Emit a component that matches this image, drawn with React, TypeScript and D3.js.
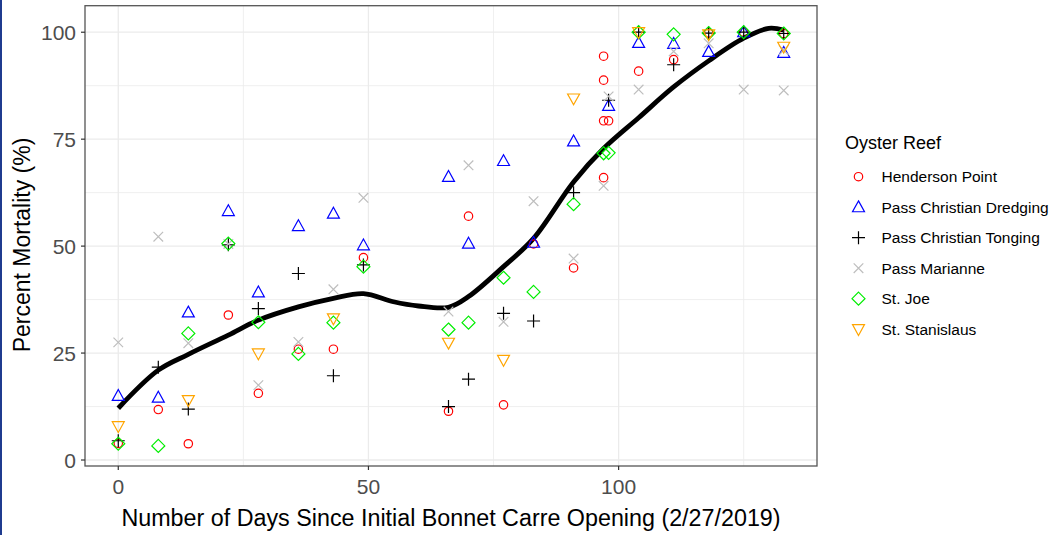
import React from "react";
import * as d3 from "d3";

const seriesNames = [
  "Henderson Point",
  "Pass Christian Dredging",
  "Pass Christian Tonging",
  "Pass Marianne",
  "St. Joe",
  "St. Stanislaus",
];

const hendersonDays = [0, 8, 14, 22, 28, 36, 43, 49, 66, 70, 77, 83, 91, 97, 97, 97, 97, 98, 104, 111, 118, 125, 133];
const hendersonVals = [3.9, 11.8, 3.8, 33.9, 15.6, 25.9, 25.9, 47.3, 11.4, 57.0, 12.9, 50.5, 44.9, 94.4, 88.8, 79.3, 66.0, 79.3, 90.9, 93.6, 99.8, 100, 99.7];

const dredgingDays = [0, 8, 14, 22, 28, 36, 43, 49, 66, 70, 77, 83, 91, 98, 104, 111, 118, 125, 133];
const dredgingVals = [15.0, 14.6, 34.5, 58.2, 39.2, 54.7, 57.6, 50.2, 66.2, 50.6, 69.9, 50.8, 74.5, 82.8, 97.5, 97.3, 95.4, 100, 95.2];

const tongingDays = [0, 8, 14, 22, 28, 36, 43, 49, 66, 70, 77, 83, 91, 98, 104, 111, 118, 125, 133];
const tongingVals = [4.5, 21.7, 11.9, 50.3, 35.4, 43.6, 19.7, 45.6, 12.5, 18.9, 34.3, 32.5, 62.5, 84.1, 100, 92.4, 99.8, 100, 99.7];

const marianneDays = [0, 8, 14, 22, 28, 36, 43, 49, 66, 70, 77, 83, 91, 97, 98, 104, 111, 118, 125, 133, 133];
const marianneVals = [27.5, 52.2, 27.3, 50.5, 17.5, 27.6, 39.9, 61.3, 34.7, 68.9, 32.3, 60.5, 47.1, 64.1, 85.0, 86.6, 95.5, 97.4, 86.6, 86.4, 95.8];

const joeDays = [0, 8, 14, 22, 28, 36, 43, 49, 66, 70, 77, 83, 91, 97, 98, 104, 111, 118, 125, 133];
const joeVals = [3.8, 3.3, 29.6, 50.6, 32.2, 24.8, 32.1, 45.2, 30.5, 32.1, 42.6, 39.3, 59.8, 71.7, 71.8, 100, 99.5, 99.8, 100, 99.7];

const stanislausDays = [0, 14, 28, 43, 66, 77, 91, 104, 118, 133];
const stanislausVals = [7.9, 14.0, 24.9, 33.1, 27.4, 23.4, 84.5, 100, 99.5, 96.6];

const smoothDays = [0, 8, 14, 22, 28, 36, 43, 49, 55, 60, 66, 70, 77, 83, 91, 97, 104, 111, 118, 125, 130, 133];
const smoothVals = [12.1, 21.0, 24.7, 29.2, 32.7, 35.8, 37.8, 38.9, 37.0, 36.0, 35.7, 38.2, 45.2, 51.8, 65.0, 72.8, 80.0, 87.2, 93.3, 98.6, 100.9, 100.5];

const xTicks = [0, 50, 100];
const xMinor = [25, 75, 125];
const yTicks = [0, 25, 50, 75, 100];
const yMinor = [12.5, 37.5, 62.5, 87.5];

const colors = ["#ff0000", "#0000ff", "#000000", "#bebebe", "#00ee00", "#ffa500"];
const shapes = ["circle", "triangle", "plus", "cross", "diamond", "invtriangle"];

const W = 1058;
const H = 535;
const panel = { left: 85, right: 817, top: 5.7, bottom: 466 };

const xScale = d3.scaleLinear().domain([-6.65, 139.65]).range([panel.left, panel.right]);
const yScale = d3.scaleLinear().domain([-1.4, 106.2]).range([panel.bottom, panel.top]);

function Marker({ shape, color, x, y }: { shape: string; color: string; x: number; y: number }) {
  const sw = 1.2;
  if (shape === "circle") {
    return <circle cx={x} cy={y} r={4.2} fill="none" stroke={color} strokeWidth={sw} />;
  }
  if (shape === "triangle") {
    const s = 6.3;
    return (
      <path
        d={`M${x},${y - s}L${x + s * 0.95},${y + s * 0.72}L${x - s * 0.95},${y + s * 0.72}Z`}
        fill="none"
        stroke={color}
        strokeWidth={sw}
      />
    );
  }
  if (shape === "invtriangle") {
    const s = 6.3;
    return (
      <path
        d={`M${x},${y + s}L${x + s * 0.95},${y - s * 0.72}L${x - s * 0.95},${y - s * 0.72}Z`}
        fill="none"
        stroke={color}
        strokeWidth={sw}
      />
    );
  }
  if (shape === "plus") {
    const s = 6.5;
    return (
      <path d={`M${x - s},${y}L${x + s},${y}M${x},${y - s}L${x},${y + s}`} stroke={color} strokeWidth={sw} fill="none" />
    );
  }
  if (shape === "cross") {
    const s = 4.8;
    return (
      <path
        d={`M${x - s},${y - s}L${x + s},${y + s}M${x - s},${y + s}L${x + s},${y - s}`}
        stroke={color}
        strokeWidth={sw}
        fill="none"
      />
    );
  }
  const s = 6.5;
  return (
    <path
      d={`M${x},${y - s}L${x + s},${y}L${x},${y + s}L${x - s},${y}Z`}
      fill="none"
      stroke={color}
      strokeWidth={sw}
    />
  );
}

export default function App() {
  const series = [
    { days: hendersonDays, vals: hendersonVals },
    { days: dredgingDays, vals: dredgingVals },
    { days: tongingDays, vals: tongingVals },
    { days: marianneDays, vals: marianneVals },
    { days: joeDays, vals: joeVals },
    { days: stanislausDays, vals: stanislausVals },
  ];

  const line = d3
    .line<number>()
    .x((_, i) => xScale(smoothDays[i]))
    .y((d) => yScale(d))
    .curve(d3.curveCatmullRom.alpha(0.5));

  const font = "'Liberation Sans', Arial, sans-serif";

  return (
    <div style={{ position: "fixed", left: 0, top: 0, width: W, height: H, background: "#fff" }}>
      <svg width={W} height={H} style={{ display: "block", fontFamily: font }}>
        <rect x={0} y={0} width={W} height={H} fill="#fff" />
        <rect x={0} y={0} width={2} height={H} fill="#1f3b8f" />
        {xMinor.map((t) => (
          <line key={"xm" + t} x1={xScale(t)} x2={xScale(t)} y1={panel.top} y2={panel.bottom} stroke="#ebebeb" strokeWidth={0.8} />
        ))}
        {yMinor.map((t) => (
          <line key={"ym" + t} x1={panel.left} x2={panel.right} y1={yScale(t)} y2={yScale(t)} stroke="#ebebeb" strokeWidth={0.8} />
        ))}
        {xTicks.map((t) => (
          <line key={"xg" + t} x1={xScale(t)} x2={xScale(t)} y1={panel.top} y2={panel.bottom} stroke="#ebebeb" strokeWidth={1.3} />
        ))}
        {yTicks.map((t) => (
          <line key={"yg" + t} x1={panel.left} x2={panel.right} y1={yScale(t)} y2={yScale(t)} stroke="#ebebeb" strokeWidth={1.3} />
        ))}
        <path d={line(smoothVals) || ""} fill="none" stroke="#000" strokeWidth={4.8} strokeLinejoin="round" strokeLinecap="butt" />
        {series.map((s, si) =>
          s.days.map((d, i) => (
            <Marker key={si + "-" + i} shape={shapes[si]} color={colors[si]} x={xScale(d)} y={yScale(s.vals[i])} />
          ))
        )}
        <rect
          x={panel.left}
          y={panel.top}
          width={panel.right - panel.left}
          height={panel.bottom - panel.top}
          fill="none"
          stroke="#555"
          strokeWidth={1.3}
        />
        {xTicks.map((t) => (
          <g key={"xt" + t}>
            <line x1={xScale(t)} x2={xScale(t)} y1={panel.bottom} y2={panel.bottom + 4} stroke="#333" strokeWidth={1.2} />
            <text x={xScale(t)} y={494} textAnchor="middle" fontSize={21} fill="#4d4d4d">
              {t}
            </text>
          </g>
        ))}
        {yTicks.map((t) => (
          <g key={"yt" + t}>
            <line x1={panel.left - 4} x2={panel.left} y1={yScale(t)} y2={yScale(t)} stroke="#333" strokeWidth={1.2} />
            <text x={76} y={yScale(t) + 7.5} textAnchor="end" fontSize={21} fill="#4d4d4d">
              {t}
            </text>
          </g>
        ))}
        <text x={451} y={526} textAnchor="middle" fontSize={23.3} fill="#000">
          Number of Days Since Initial Bonnet Carre Opening (2/27/2019)
        </text>
        <text transform={`translate(30,245) rotate(-90)`} textAnchor="middle" fontSize={23} fill="#000">
          Percent Mortality (%)
        </text>
        <text x={845} y={148.5} fontSize={18} fill="#000">
          Oyster Reef
        </text>
        {seriesNames.map((n, i) => {
          const cy = 176.7 + i * 30.5;
          return (
            <g key={n}>
              <Marker shape={shapes[i]} color={colors[i]} x={858.5} y={cy} />
              <text x={881.5} y={cy + 5.3} fontSize={15.5} fill="#000">
                {n}
              </text>
            </g>
          );
        })}
      </svg>
    </div>
  );
}
